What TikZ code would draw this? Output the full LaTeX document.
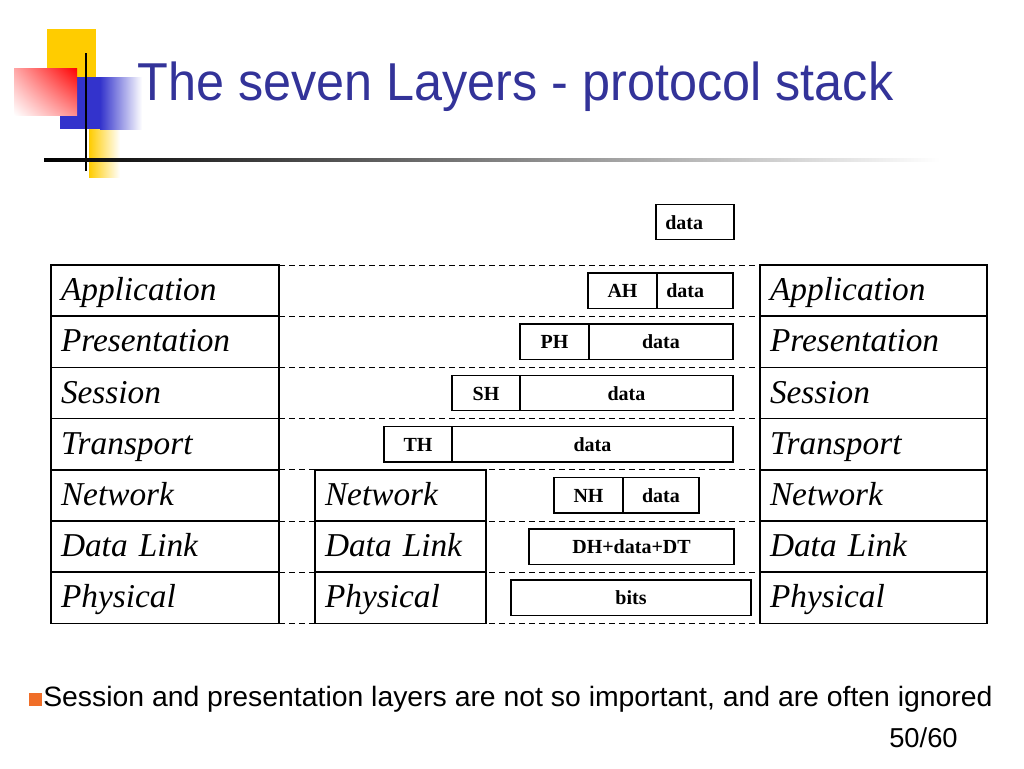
\documentclass[tikz,border=0pt]{standalone}
\usepackage{fontspec}
\usepackage{graphicx}
\setmainfont{Liberation Serif}[ItalicFont={Liberation Serif Italic}, BoldFont={Liberation Serif Bold}]
\newfontfamily\folienfont{Liberation Sans}
\usetikzlibrary{positioning,shadings}
\definecolor{titelblau}{RGB}{51,51,153}
\definecolor{logoblau}{RGB}{51,51,204}
\definecolor{logogelb}{RGB}{255,204,0}
\definecolor{punktorange}{RGB}{240,110,40}
\begin{document}
\begin{tikzpicture}
                        [x=0.75pt,y=-0.75pt,
                        layer/.style={draw, line width=1.25pt, minimum height=38.4pt, inner xsep=7.5pt, inner ysep=0pt,
                                text width=#1, text height=19.5pt, text depth=4.5pt, align=left, outer sep=0pt,
                                font=\itshape\fontsize{25}{27}\selectfont},
                        pkt/.style={draw, line width=1pt, minimum height=26.6pt, minimum width=#1,
                                text height=13pt, text depth=2.4pt,
                                inner sep=0pt, outer sep=0pt, font=\bfseries\fontsize{15}{17}\selectfont},
                        pktl/.style={pkt=10pt, inner xsep=7pt, text width=#1, align=left},
                        trenn/.style={dash pattern=on 4.5pt off 3pt, line width=0.7pt}]
                        \useasboundingbox (0,0) rectangle (1024,768);
                        %Logo
                        \fill [logogelb] (47,29) rectangle (96,80);
                        \shade [left color=logogelb, right color=white] (89,129) rectangle (120,177);
                        \fill [logoblau] (60,77) rectangle (100,129);
                        \shade [left color=logoblau, right color=white] (100,77) rectangle (142,129);
                        \shade [upper right=red, upper left=red!35!white, lower right=red!45!white, lower left=white]
                                (14,68) rectangle (77,115);
                        \draw [line width=2.2pt] (86,53) -- (86,171);
                        \shade [left color=black, right color=white] (44,158.5) rectangle (940,161.5);
                        %Titel
                        \node (titel) [anchor=base west, inner sep=0pt, text=titelblau,
                                font=\folienfont\fontsize{40}{44}\selectfont] at (137,100)
                                {\resizebox{567pt}{\height}{The seven Layers - protocol stack}};
                        %Schichten links
                        \node (L1) [layer=156pt, anchor=north west] at (51,265) {Application};
                        \node (L2) [layer=156pt, below=0pt of L1] {Presentation};
                        \node (L3) [layer=156pt, below=0pt of L2] {Session};
                        \node (L4) [layer=156pt, below=0pt of L3] {Transport};
                        \node (L5) [layer=156pt, below=0pt of L4] {Network};
                        \node (L6) [layer=156pt, below=0pt of L5] {Data Link};
                        \node (L7) [layer=156pt, below=0pt of L6] {Physical};
                        %Schichten Mitte
                        \node (M5) [layer=113.25pt, right=27pt of L5] {Network};
                        \node (M6) [layer=113.25pt, below=0pt of M5] {Data Link};
                        \node (M7) [layer=113.25pt, below=0pt of M6] {Physical};
                        %Schichten rechts
                        \node (R1) [layer=155.25pt, anchor=north west] at (760,265) {Application};
                        \node (R2) [layer=155.25pt, below=0pt of R1] {Presentation};
                        \node (R3) [layer=155.25pt, below=0pt of R2] {Session};
                        \node (R4) [layer=155.25pt, below=0pt of R3] {Transport};
                        \node (R5) [layer=155.25pt, below=0pt of R4] {Network};
                        \node (R6) [layer=155.25pt, below=0pt of R5] {Data Link};
                        \node (R7) [layer=155.25pt, below=0pt of R6] {Physical};
                        %Trennlinien
                        \foreach \i in {1,...,7}
                                \draw [trenn] (L\i.north east) -- (R\i.north west);
                        \draw [trenn] (L7.south east) -- (R7.south west);
                        %Pakete
                        \node (D0) [pktl=44.5pt, anchor=west] at (656,222) {data};
                        \node (AH) [pkt=51.75pt, anchor=west] at (588,290.6) {AH};
                        \node (AD) [pktl=43pt, right=0pt of AH] {data};
                        \node (PH) [pkt=51.75pt, anchor=west] at (520,341.8) {PH};
                        \node (PD) [pkt=108pt, right=0pt of PH] {data};
                        \node (SH) [pkt=51pt, anchor=west] at (452,393) {SH};
                        \node (SD) [pkt=159.75pt, right=0pt of SH] {data};
                        \node (TH) [pkt=51pt, anchor=west] at (384,444.2) {TH};
                        \node (TD) [pkt=210.75pt, right=0pt of TH] {data};
                        \node (NH) [pkt=51.75pt, anchor=west] at (554,495.4) {NH};
                        \node (ND) [pkt=57pt, right=0pt of NH] {data};
                        \node (DH) [pkt=153.75pt, anchor=west] at (529,546.6) {DH+data+DT};
                        \node (BI) [pkt=180pt, anchor=west] at (511,597.8) {bits};
                        %Fusszeile
                        \node (punkt) [fill=punktorange, minimum size=9.4pt, inner sep=0pt] at (35.5,699.5) {};
                        \node (hinweis) [anchor=base west, inner sep=0pt, font=\folienfont\fontsize{21}{24}\selectfont]
                                at (43,706) {\resizebox{712pt}{\height}{Session and presentation layers are not so important, and are often ignored}};
                        \node (seite) [anchor=base west, inner sep=0pt, font=\folienfont\fontsize{20.5}{22}\selectfont]
                                at (889,747) {50/60};
                \end{tikzpicture}
\end{document}
